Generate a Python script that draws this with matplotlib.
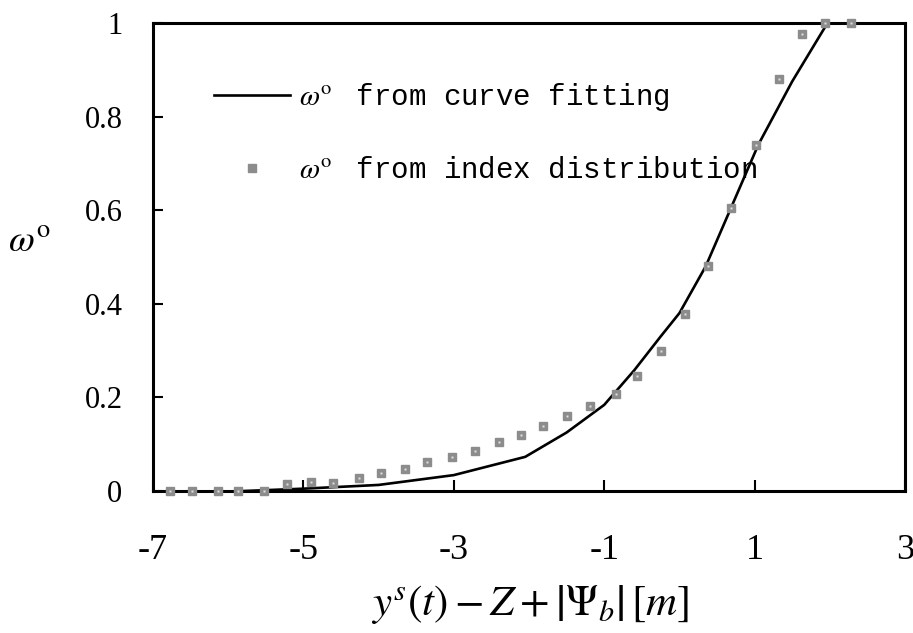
import matplotlib
matplotlib.use("Agg")
import matplotlib.pyplot as plt

# omega^o from curve fitting (solid line)
fit_x = [-5.8, -5.0, -4.0, -3.0, -2.05, -1.5, -1.0, -0.6, -0.25, 0.0, 0.35, 0.7, 1.05, 1.5, 1.97]
fit_y = [0.0, 0.005, 0.013, 0.034, 0.073, 0.125, 0.184, 0.258, 0.330, 0.38, 0.48, 0.61, 0.74, 0.875, 1.0]

# omega^o from index distribution (grey squares)
index_x = [-6.77, -6.48, -6.14, -5.87, -5.52, -5.22, -4.90, -4.61, -4.26, -3.97,
           -3.65, -3.36, -3.02, -2.72, -2.40, -2.10, -1.81, -1.49, -1.19, -0.84,
           -0.56, -0.25, 0.07, 0.38, 0.68, 1.02, 1.32, 1.63, 1.94, 2.28]
index_y = [0.0, 0.0, 0.0, 0.0, 0.0, 0.014, 0.02, 0.018, 0.027, 0.039,
           0.048, 0.063, 0.073, 0.086, 0.104, 0.119, 0.139, 0.160, 0.182, 0.207,
           0.245, 0.300, 0.378, 0.481, 0.605, 0.739, 0.881, 0.976, 1.0, 1.0]

x_ticks = [-7, -5, -3, -1, 1, 3]
y_ticks = [0, 0.2, 0.4, 0.6, 0.8, 1]
y_tick_labels = ["0", "0.2", "0.4", "0.6", "0.8", "1"]

plt.rcParams["mathtext.fontset"] = "stix"

fig = plt.figure(figsize=(9.13, 6.33), dpi=100)
ax = fig.add_axes([0.1676, 0.2243, 0.8236, 0.7394])

ax.plot(fit_x, fit_y, color="black", lw=1.9,
        label=r"$\omega^{\mathrm{o}}\;$ from curve fitting", zorder=2)
ax.plot(index_x, index_y, ls="none", marker="s", ms=6, mfc="#8c8c8c", mec="#8c8c8c",
        label=r"$\omega^{\mathrm{o}}\;$ from index distribution", zorder=3, clip_on=False)
# light centre of the markers
ax.plot(index_x, index_y, ls="none", marker="s", ms=2, mfc="#e0e0e0", mec="none", zorder=4, clip_on=False)

ax.set_xlim(-7, 3)
ax.set_ylim(0, 1)
ax.set_xticks(x_ticks)
ax.set_xticklabels([str(t) for t in x_ticks], fontfamily="Liberation Serif", fontsize=26)
ax.set_yticks(y_ticks)
ax.set_yticklabels(y_tick_labels, fontfamily="Liberation Serif", fontsize=22)
ax.tick_params(axis="x", direction="in", length=8, width=1.5, pad=31)
ax.tick_params(axis="y", direction="in", length=7, width=1.5, pad=22)

for side in ax.spines.values():
    side.set_linewidth(2.2)

ax.set_xlabel(r"$y^s(t) - Z + \left|\Psi_b\right|\,[m]$", fontsize=31)
ax.xaxis.set_label_coords(0.501, -0.2436)
ax.xaxis.label.set_va("center")
ax.set_ylabel(r"$\omega^{\mathrm{o}}$", fontsize=27, rotation=0, ha="center", va="center")
ax.yaxis.set_label_coords(-0.164, 0.532)

leg = ax.legend(loc="upper left", bbox_to_anchor=(0.081, 0.875), frameon=False,
                prop={"family": "Liberation Mono", "size": 21},
                handlelength=2.6, handletextpad=0.3, labelspacing=1.45,
                borderpad=0, borderaxespad=0, markerscale=1.0)

fig.savefig("out.png", dpi=100)
